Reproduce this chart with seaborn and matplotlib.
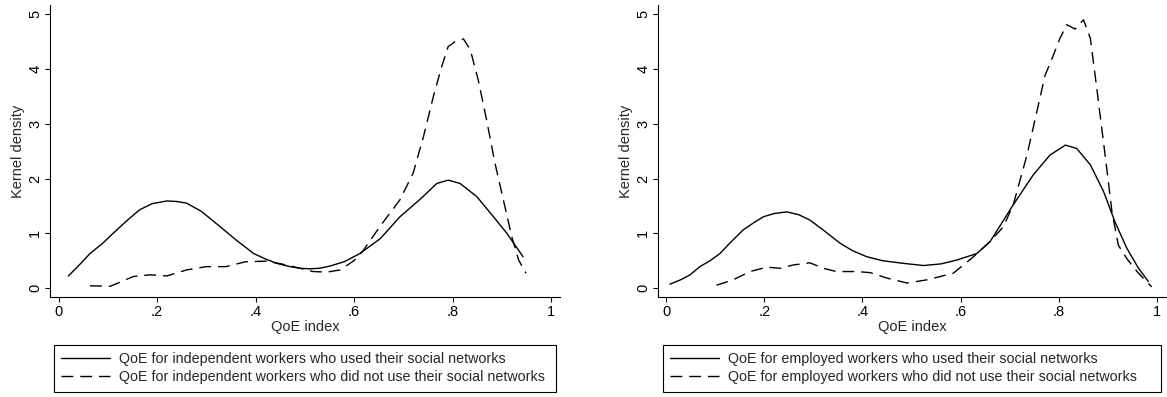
"""Kernel density of the QoE index by social-network use (Stata-style two panels)."""

import matplotlib

matplotlib.use("Agg")
import matplotlib.pyplot as plt
import pandas as pd
import seaborn as sns

# values
ind_used_x = [0.020, 0.040, 0.064, 0.090, 0.111, 0.140, 0.165, 0.190, 0.220, 0.240,
              0.260, 0.290, 0.328, 0.360, 0.396, 0.420, 0.443, 0.470, 0.490, 0.510,
              0.530, 0.551, 0.580, 0.612, 0.653, 0.693, 0.734, 0.768, 0.791, 0.815,
              0.849, 0.883, 0.910, 0.943]
ind_used_y = [0.22, 0.40, 0.63, 0.82, 1.00, 1.24, 1.43, 1.54, 1.59, 1.58,
              1.55, 1.40, 1.12, 0.88, 0.63, 0.53, 0.45, 0.39, 0.36, 0.35,
              0.36, 0.40, 0.48, 0.63, 0.90, 1.30, 1.62, 1.91, 1.97, 1.91,
              1.67, 1.30, 1.00, 0.57]

ind_not_x = [0.064, 0.105, 0.152, 0.186, 0.220, 0.260, 0.300, 0.340, 0.380, 0.423,
             0.463, 0.490, 0.517, 0.545, 0.572, 0.600, 0.619, 0.653, 0.693, 0.720,
             0.741, 0.761, 0.778, 0.791, 0.805, 0.822, 0.836, 0.852, 0.869, 0.886,
             0.903, 0.920, 0.934, 0.949]
ind_not_y = [0.04, 0.03, 0.21, 0.24, 0.22, 0.33, 0.39, 0.39, 0.48, 0.49,
             0.42, 0.36, 0.30, 0.29, 0.33, 0.50, 0.69, 1.13, 1.61, 2.10,
             2.77, 3.50, 4.05, 4.41, 4.50, 4.55, 4.35, 3.80, 3.07, 2.28,
             1.61, 0.94, 0.51, 0.27]

emp_used_x = [0.008, 0.030, 0.049, 0.069, 0.090, 0.110, 0.130, 0.157, 0.180, 0.198,
              0.220, 0.246, 0.270, 0.293, 0.320, 0.354, 0.380, 0.409, 0.440, 0.483,
              0.524, 0.560, 0.592, 0.633, 0.660, 0.707, 0.748, 0.782, 0.813, 0.836,
              0.864, 0.891, 0.914, 0.938, 0.962, 0.982]
emp_used_y = [0.07, 0.15, 0.24, 0.39, 0.50, 0.63, 0.82, 1.06, 1.20, 1.30,
              1.36, 1.39, 1.34, 1.24, 1.06, 0.82, 0.68, 0.57, 0.50, 0.45,
              0.41, 0.44, 0.51, 0.63, 0.85, 1.52, 2.07, 2.43, 2.61, 2.55,
              2.25, 1.76, 1.21, 0.73, 0.36, 0.12]

emp_not_x = [0.103, 0.137, 0.171, 0.205, 0.232, 0.259, 0.293, 0.320, 0.347, 0.388,
             0.416, 0.450, 0.491, 0.532, 0.585, 0.626, 0.660, 0.687, 0.707, 0.735,
             0.755, 0.772, 0.789, 0.802, 0.816, 0.833, 0.850, 0.864, 0.877, 0.894,
             0.908, 0.921, 0.938, 0.959, 0.978, 0.989]
emp_not_y = [0.05, 0.15, 0.30, 0.38, 0.36, 0.42, 0.46, 0.36, 0.30, 0.30,
             0.28, 0.18, 0.09, 0.15, 0.27, 0.57, 0.85, 1.12, 1.52, 2.43,
             3.22, 3.89, 4.26, 4.56, 4.81, 4.73, 4.90, 4.56, 3.65, 2.43,
             1.39, 0.78, 0.54, 0.30, 0.12, 0.02]

x_ticks = [0, 0.2, 0.4, 0.6, 0.8, 1]
x_tick_labels = ["0", ".2", ".4", ".6", ".8", "1"]
y_ticks = [0, 1, 2, 3, 4, 5]
y_tick_labels = ["0", "1", "2", "3", "4", "5"]

panels = [
    ("independent", ind_used_x, ind_used_y, ind_not_x, ind_not_y),
    ("employed", emp_used_x, emp_used_y, emp_not_x, emp_not_y),
]


def make_frame(used_x, used_y, not_x, not_y, used_lab, not_lab):
    a = pd.DataFrame({"qoe": used_x, "density": used_y, "group": used_lab})
    b = pd.DataFrame({"qoe": not_x, "density": not_y, "group": not_lab})
    return pd.concat([a, b], ignore_index=True)


sns.set_theme(style="white")
plt.rcParams["font.family"] = ["Liberation Sans", "DejaVu Sans"]
plt.rcParams["lines.scale_dashes"] = False
plt.rcParams["lines.solid_joinstyle"] = "round"
plt.rcParams["lines.dash_joinstyle"] = "round"

fig = plt.figure(figsize=(11.67, 3.97), dpi=100)
axes_pos = [
    [50 / 1167, 100 / 397, 510 / 1167, 292 / 397],
    [658 / 1167, 100 / 397, 508 / 1167, 292 / 397],
]
legend_boxes = [
    (54 / 1167, 6 / 397, 502 / 1167, 46 / 397),
    (663 / 1167, 6 / 397, 498 / 1167, 46 / 397),
]
x_limits = [(-0.0173, 1.018), (-0.0163, 1.018)]
fs = 10.5

for i, (kind, ux, uy, nx, ny) in enumerate(panels):
    used_lab = f"QoE for {kind} workers who used their social networks"
    not_lab = f"QoE for {kind} workers who did not use their social networks"
    df = make_frame(ux, uy, nx, ny, used_lab, not_lab)

    ax = fig.add_axes(axes_pos[i])
    sns.lineplot(
        data=df, x="qoe", y="density", style="group",
        style_order=[used_lab, not_lab],
        dashes={used_lab: "", not_lab: (8.5, 5)},
        color="black", linewidth=1.0, sort=True, estimator=None, ax=ax,
    )
    ax.set_xlim(*x_limits[i])
    ax.set_ylim(-0.165, 5.17)
    ax.set_xticks(x_ticks)
    ax.set_xticklabels(x_tick_labels)
    ax.set_yticks(y_ticks)
    ax.set_yticklabels(y_tick_labels, rotation=90, va="center")
    ax.tick_params(direction="out", length=3.6, width=0.8, colors="black",
                   labelsize=fs, pad=2, left=True, bottom=True)
    for side in ["top", "right"]:
        ax.spines[side].set_visible(False)
    for side in ["left", "bottom"]:
        ax.spines[side].set_color("black")
        ax.spines[side].set_linewidth(0.8)
    ax.set_xlabel("QoE index", fontsize=fs, labelpad=1)
    ax.set_ylabel("Kernel density", fontsize=fs, labelpad=2)

    ax.get_legend().remove()
    handles, labels = ax.get_legend_handles_labels()
    leg = fig.legend(
        handles, labels, loc="upper left", bbox_to_anchor=legend_boxes[i],
        bbox_transform=fig.transFigure, mode="expand", borderaxespad=0,
        fontsize=10.3, handlelength=3.4, handletextpad=0.65, borderpad=0.5,
        labelspacing=0.3, fancybox=False, framealpha=1, edgecolor="black",
    )
    leg.get_frame().set_linewidth(0.8)

fig.savefig("out.png", dpi=100)
